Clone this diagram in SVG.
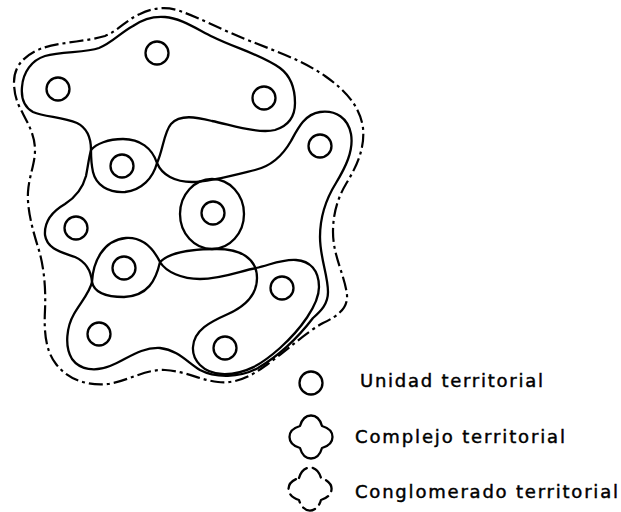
<svg xmlns="http://www.w3.org/2000/svg" width="621" height="512" viewBox="0 0 621 512">
<defs>
<style>
.ln{fill:none;stroke:#000;stroke-width:2.3;stroke-linejoin:round;stroke-linecap:round}
.dash{fill:none;stroke:#000;stroke-width:2.2;stroke-dasharray:14 4 3 4;stroke-linecap:butt}
.unit{fill:#fff;stroke:#000;stroke-width:2.3}
.lbl{font-family:"DejaVu Sans","Liberation Sans",sans-serif;font-size:18px;fill:#000;stroke:#000;stroke-width:0.45}
</style>
<path id="blob" d="M -11,-11 C -7,-25 7,-25 11,-11 C 25,-7 25,7 11,11 C 7,25 -7,25 -11,11 C -25,7 -25,-7 -11,-11 Z"/>
</defs>
<rect width="621" height="512" fill="#fff"/>

<g id="conglomerado">
<path class="dash" d="M 14,82 C 14,66 24,56 40,49 C 58,42 85,42 105,36 C 118,31 126,20 140,14 C 152,8 166,6 180,11 C 200,18 222,30 250,41 C 275,51 302,60 325,76 C 345,90 360,106 363,128 C 365,148 357,166 346,184 C 337,199 333,215 333,232 C 333,256 345,276 347,295 C 348,308 338,316 323,323 C 305,333 285,352 265,366 C 250,377 235,384 218,382 C 200,380 185,371 165,370 C 145,369 128,381 108,384 C 88,386 68,380 56,364 C 45,350 44,330 45,310 C 46,288 44,266 38,247 C 32,228 27,208 28,192 C 29,176 35,164 35,150 C 35,134 27,122 20,108 C 16,100 14,92 14,82 Z"/>
</g>

<g id="complejo-norte">
<path class="ln" d="M 91,150 C 91,138 87,128 77,123 C 62,117 45,117 33,112 C 24,107 21,98 22,87 C 23,72 32,60 45,56 C 62,51 85,53 99,48 C 112,43 120,33 133,26 C 143,19 153,16 165,17 C 180,18 195,28 213,37 C 235,48 260,54 280,68 C 292,77 295,90 295,103 C 295,117 288,126 275,130 C 258,134 232,125 212,121 C 196,117 180,114 171,124 C 164,132 163,150 157,163 C 153,178 142,190 125,192 C 108,193 96,185 93,172 C 91,163 91,156 91,150 Z"/>
</g>

<g id="complejo-este-oeste">
<path class="ln" d="M 91,150 C 96,144 108,139 123,139 C 140,139 152,148 157,163 C 162,175 175,182 192,182 C 210,182 235,175 255,170 C 272,166 283,155 291,141 C 298,128 305,114 320,112 C 336,110 348,118 351,134 C 354,151 345,168 336,183 C 326,199 320,215 320,237 C 320,258 328,275 328,292 C 328,304 321,311 313,318 C 300,335 280,355 258,368 C 240,378 215,378 200,370 C 188,363 178,350 160,348 C 140,347 126,360 110,366 C 95,372 80,370 72,359 C 64,346 67,326 74,314 C 81,302 90,292 92,282 C 91,270 86,262 75,257 C 61,252 47,249 45,235 C 44,220 53,211 65,204 C 76,197 83,187 86,176 C 88,166 89,157 91,150 Z"/>
</g>

<g id="complejo-centro">
<ellipse class="ln" cx="212" cy="214" rx="32" ry="35"/>
</g>

<g id="complejo-sur">
<path class="ln" d="M 92,282 C 93,262 103,240 126,238 C 142,237 153,248 160,262 C 166,272 182,279 200,279 C 222,279 240,271 256,268 C 270,265 282,259 296,260 C 310,261 319,270 319,287 C 319,305 300,330 280,348 C 262,364 245,375 222,374 C 203,373 192,360 193,347 C 194,330 210,322 228,314 C 248,305 257,292 257,278 C 257,258 240,249 217,249 C 193,249 170,252 160,262 C 156,280 148,296 124,297 C 105,297 94,292 92,282 Z"/>
</g>

<g id="unidades">
<circle id="u1" class="unit" cx="157" cy="53" r="11.5"/>
<circle id="u2" class="unit" cx="58" cy="89" r="11.5"/>
<circle id="u3" class="unit" cx="264" cy="98" r="11.5"/>
<circle id="u4" class="unit" cx="320" cy="146" r="11.5"/>
<circle id="u5" class="unit" cx="122" cy="166" r="11.5"/>
<circle id="u6" class="unit" cx="213" cy="213" r="11.5"/>
<circle id="u7" class="unit" cx="76" cy="228" r="11.5"/>
<circle id="u8" class="unit" cx="124" cy="268" r="11.5"/>
<circle id="u9" class="unit" cx="282" cy="288" r="11.5"/>
<circle id="u10" class="unit" cx="99" cy="334" r="11.5"/>
<circle id="u11" class="unit" cx="225" cy="348" r="11.5"/>
</g>

<g id="leyenda">
<g id="ley-unidad">
<circle class="unit" cx="311" cy="383" r="11.5"/>
<text class="lbl" x="360" y="387" textLength="183" lengthAdjust="spacing">Unidad territorial</text>
</g>
<g id="ley-complejo">
<use href="#blob" class="ln" transform="translate(311,437)"/>
<text class="lbl" x="355" y="443" textLength="210" lengthAdjust="spacing">Complejo territorial</text>
</g>
<g id="ley-conglomerado">
<use href="#blob" class="ln" style="stroke-dasharray:13 6" transform="translate(310,489)"/>
<text class="lbl" x="355" y="498" textLength="263" lengthAdjust="spacing">Conglomerado territorial</text>
</g>
</g>
</svg>
